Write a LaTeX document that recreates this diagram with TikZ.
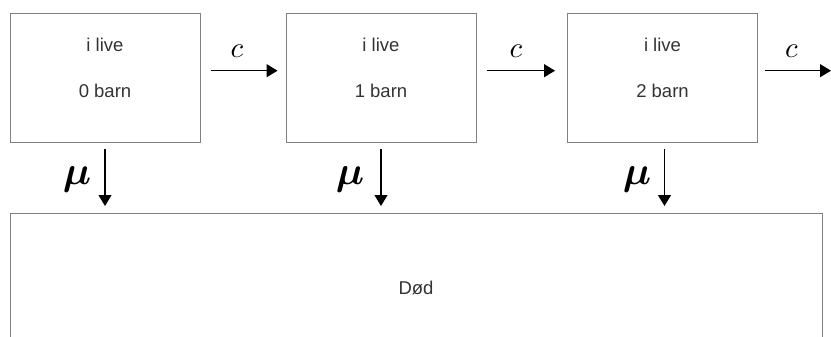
\documentclass[tikz,border=0pt]{standalone}
\usepackage{fontspec}
\setmainfont{Liberation Sans}
\usetikzlibrary{arrows.meta}

\begin{document}
\begin{tikzpicture}
[x=1pt, y=1pt,
 every node/.style={inner sep=0pt},
 state/.style={rectangle, draw=black!50, line width=0.9pt, minimum width=190pt, minimum height=129pt},
 txt/.style={anchor=base, text=black!80, font=\fontsize{18.5}{22}\selectfont},
 rate/.style={anchor=base, scale=2.9},
 death/.style={anchor=base, scale=4, font=\boldmath},
 flow/.style={line width=1.1pt, -{Triangle[length=11pt, width=13pt]}}]
\clip (0,0) rectangle (831,-337);
\node (s0) [state] at (105, -77.5) {};
\node (s1) [state] at (381, -77.5) {};
\node (s2) [state] at (662.5, -77.5) {};
\node (dead) [state, minimum width=812pt, minimum height=200pt, anchor=north] at (416, -213) {};
\node (a0) [txt] at (105, -52) {i live};
\node (b0) [txt] at (105, -98) {0 barn};
\node (a1) [txt] at (381, -52) {i live};
\node (b1) [txt] at (381, -98) {1 barn};
\node (a2) [txt] at (662.5, -52) {i live};
\node (b2) [txt] at (662.5, -98) {2 barn};
\node (d) [txt] at (416, -294) {Død};
\coordinate (out) at (831, -70.7);
\draw [flow, shorten <=10.5pt, shorten >=8pt] ([yshift=6.8pt]s0.east) -- ([yshift=6.8pt]s1.west);
\draw [flow, shorten <=10.5pt, shorten >=12pt] ([yshift=6.8pt]s1.east) -- ([yshift=6.8pt]s2.west);
\draw [flow, shorten <=7pt] ([yshift=6.8pt]s2.east) -- (out);
\node (c0) [rate] at (237, -58) {$c$};
\node (c1) [rate] at (516, -58) {$c$};
\node (c2) [rate] at (791.5, -58) {$c$};
\draw [flow, shorten <=7pt, shorten >=7pt] (s0.south) -- (s0.south |- dead.north);
\draw [flow, shorten <=7pt, shorten >=7pt] (s1.south) -- (s1.south |- dead.north);
\draw [flow, shorten <=7pt, shorten >=7pt] ([xshift=2pt]s2.south) -- ([xshift=2pt]s2.south |- dead.north);
\node (m0) [death] at (77, -184) {$\mu$};
\node (m1) [death] at (350, -184) {$\mu$};
\node (m2) [death] at (637, -184) {$\mu$};
\end{tikzpicture}
\end{document}
